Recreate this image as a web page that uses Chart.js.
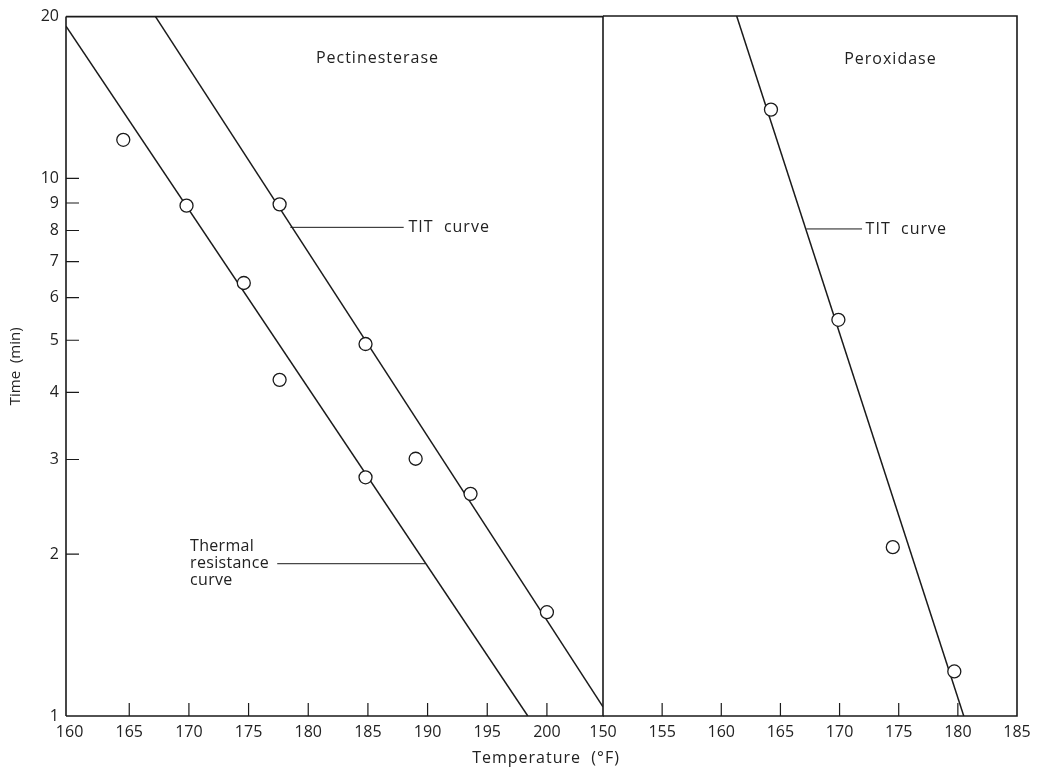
<!DOCTYPE html>
<html>
<head>
<meta charset="utf-8">
<script src="https://cdn.jsdelivr.net/npm/chart.js@4"></script>
<style>
  body { margin: 0; background: #fff; }
  .wrap { position: relative; width: 1045px; height: 770px; }
  .wrap canvas { position: absolute; left: 0; top: 0; }
  #peroxChart { pointer-events: none; }
</style>
</head>
<body>
<div class="wrap">
  <canvas id="pectChart" width="1045" height="770"></canvas>
  <canvas id="peroxChart" width="1045" height="770"></canvas>
</div>
<script>
// Pectinesterase panel: measured points and the two fitted lines
const pectTemp = [164.5, 169.8, 177.6, 174.6, 177.6, 184.8, 184.8, 189.0, 193.6, 200.0];
const pectTime = [11.8, 8.9, 8.95, 6.39, 4.22, 4.92, 2.78, 3.01, 2.59, 1.56];
const pectResistTemp = [159.7, 198.4];
const pectResistTime = [19.2, 1];
const pectTitTemp = [167.2, 204.7];
const pectTitTime = [20, 1.04];

// Peroxidase panel
const peroxTemp = [164.2, 169.9, 174.5, 179.7];
const peroxTime = [13.4, 5.45, 2.06, 1.21];
const peroxTitTemp = [161.3, 180.5];
const peroxTitTime = [20, 1];

// axes
const timeTicks = [1, 2, 3, 4, 5, 6, 7, 8, 9, 10, 20];
const pectTempTicks = [160, 165, 170, 175, 180, 185, 190, 195, 200];
const peroxTempTicks = [150, 155, 160, 165, 170, 175, 180, 185];

const INK = '#1a1a1a';
Chart.defaults.font.family = "'Open Sans', 'DejaVu Sans', sans-serif";
Chart.defaults.font.size = 16;
Chart.defaults.color = '#222';

const toXY = (xs, ys) => xs.map((x, i) => ({ x: x, y: ys[i] }));

// frame, inward tick marks and the hand-lettered labels
const paperPlugin = {
    id: 'paper',
    afterDraw(chart, args, opts) {
        const { ctx, chartArea: a, scales } = chart;
        ctx.save();
        ctx.strokeStyle = INK;
        ctx.lineWidth = 1.6;
        ctx.beginPath();
        if (opts.leftEdge !== false) {
            ctx.moveTo(a.left, a.top);
            ctx.lineTo(a.left, a.bottom);
        }
        ctx.moveTo(a.left, a.bottom);
        ctx.lineTo(a.right, a.bottom);
        ctx.lineTo(a.right, a.top);
        ctx.lineTo(a.left, a.top);
        ctx.stroke();

        ctx.lineWidth = 1.2;
        ctx.beginPath();
        scales.x.ticks.forEach(t => {
            const px = scales.x.getPixelForValue(t.value);
            if (px > a.left + 5 && px < a.right - 5) {
                ctx.moveTo(px, a.bottom);
                ctx.lineTo(px, a.bottom - 13);
            }
        });
        if (opts.yTicks) {
            scales.y.ticks.forEach(t => {
                const py = scales.y.getPixelForValue(t.value);
                if (py > a.top + 5 && py < a.bottom - 5) {
                    ctx.moveTo(a.left, py);
                    ctx.lineTo(a.left + 13, py);
                }
            });
        }
        ctx.stroke();

        // leader lines
        ctx.lineWidth = 1;
        (opts.leaders || []).forEach(l => {
            const y = scales.y.getPixelForValue(l.y);
            ctx.beginPath();
            ctx.moveTo(scales.x.getPixelForValue(l.x0), y);
            ctx.lineTo(scales.x.getPixelForValue(l.x1), y);
            ctx.stroke();
        });

        ctx.fillStyle = '#222';
        ctx.font = "16px 'Open Sans', 'DejaVu Sans', sans-serif";
        ctx.textBaseline = 'middle';
        (opts.labels || []).forEach(l => {
            ctx.textAlign = l.align || 'left';
            ctx.letterSpacing = l.spacing || '1px';
            const x = scales.x.getPixelForValue(l.x);
            const y = scales.y.getPixelForValue(l.y);
            const lines = l.text.split('\n');
            lines.forEach((s, i) => {
                ctx.fillText(s, x, y + (i - (lines.length - 1) / 2) * 17);
            });
        });

        if (opts.xTitle) {
            ctx.textAlign = 'center';
            ctx.letterSpacing = '1px';
            ctx.fillText(opts.xTitle, 546, 758);
        }
        ctx.restore();
    }
};

function timeAxis(show) {
    return {
        type: 'logarithmic',
        min: 1,
        max: 20,
        display: show,
        afterBuildTicks: s => { s.ticks = timeTicks.map(v => ({ value: v })); },
        afterFit: s => { s.width = show ? 66 : 0; },
        grid: { display: false, drawTicks: false },
        border: { display: false },
        ticks: {
            autoSkip: false,
            padding: 7,
            callback: v => String(v)
        },
        title: {
            display: show,
            text: 'Time  (min)',
            padding: { top: 7, bottom: 0 },
            font: { size: 15 }
        }
    };
}

function tempAxis(min, max, tickValues) {
    return {
        type: 'linear',
        min: min,
        max: max,
        afterBuildTicks: s => { s.ticks = tickValues.map(v => ({ value: v })); },
        afterFit: s => { s.height = 54; },
        grid: { display: false, drawTicks: false },
        border: { display: false },
        ticks: { autoSkip: false, maxRotation: 0, padding: 7, callback: v => String(v) }
    };
}

const pointStyle = {
    pointRadius: 6.5,
    pointBackgroundColor: '#fff',
    pointBorderColor: INK,
    pointBorderWidth: 1.3,
    showLine: false
};
const lineStyle = {
    showLine: true,
    pointRadius: 0,
    borderColor: INK,
    borderWidth: 1.5
};

new Chart(document.getElementById('pectChart'), {
    type: 'scatter',
    data: {
        datasets: [
            Object.assign({ label: 'Pectinesterase data', data: toXY(pectTemp, pectTime) }, pointStyle),
            Object.assign({ label: 'Thermal resistance curve', data: toXY(pectResistTemp, pectResistTime) }, lineStyle),
            Object.assign({ label: 'TIT curve', data: toXY(pectTitTemp, pectTitTime) }, lineStyle)
        ]
    },
    options: {
        responsive: false,
        animation: false,
        layout: { padding: { left: 0, right: 442, top: 16, bottom: 0 } },
        scales: {
            x: tempAxis(159.7, 204.7, pectTempTicks),
            y: timeAxis(true)
        },
        plugins: {
            legend: { display: false },
            tooltip: { enabled: false },
            paper: {
                yTicks: true,
                leaders: [
                    { x0: 178.5, x1: 188.0, y: 8.11 },
                    { x0: 177.4, x1: 189.8, y: 1.92 }
                ],
                labels: [
                    { text: 'Pectinesterase', x: 185.8, y: 16.7, align: 'center' },
                    { text: 'TIT  curve', x: 188.4, y: 8.11 },
                    { text: 'Thermal\nresistance\ncurve', x: 170.1, y: 1.92, spacing: '0.3px' }
                ]
            }
        }
    },
    plugins: [paperPlugin]
});

new Chart(document.getElementById('peroxChart'), {
    type: 'scatter',
    data: {
        datasets: [
            Object.assign({ label: 'Peroxidase data', data: toXY(peroxTemp, peroxTime) }, pointStyle),
            Object.assign({ label: 'TIT curve', data: toXY(peroxTitTemp, peroxTitTime) }, lineStyle)
        ]
    },
    options: {
        responsive: false,
        animation: false,
        layout: { padding: { left: 603, right: 28, top: 16, bottom: 0 } },
        scales: {
            x: tempAxis(150, 185, peroxTempTicks),
            y: timeAxis(false)
        },
        plugins: {
            legend: { display: false },
            tooltip: { enabled: false },
            paper: {
                yTicks: false,
                leftEdge: false,
                leaders: [
                    { x0: 167.2, x1: 171.9, y: 8.04 }
                ],
                labels: [
                    { text: 'Peroxidase', x: 174.3, y: 16.6, align: 'center' },
                    { text: 'TIT  curve', x: 172.2, y: 8.04 }
                ],
                xTitle: 'Temperature  (°F)'
            }
        }
    },
    plugins: [paperPlugin]
});
</script>
</body>
</html>
